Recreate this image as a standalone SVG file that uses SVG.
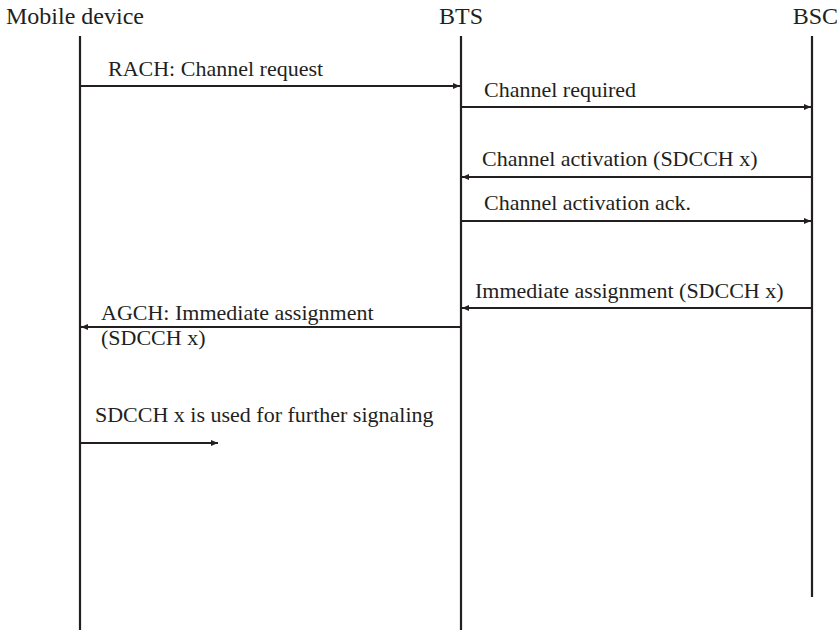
<svg xmlns="http://www.w3.org/2000/svg" width="840" height="630" viewBox="0 0 840 630">
<defs>
<marker id="ah" markerWidth="8" markerHeight="7" refX="7" refY="3.5" orient="auto" markerUnits="userSpaceOnUse">
<path d="M0,0.5 L7,3.5 L0,6.5 z" fill="#231f20"/>
</marker>
<style>
.t{font-family:"Liberation Serif","Times New Roman",serif;fill:#231f20}
.h{font-size:24px}
.l{font-size:22px}
.life{stroke:#231f20;stroke-width:2.2;fill:none}
.msg{stroke:#231f20;stroke-width:2;fill:none;marker-end:url(#ah)}
</style>
</defs>
<rect width="840" height="630" fill="#fff"/>
<g id="mobile">
<text class="t h" x="6" y="24">Mobile device</text>
<line class="life" x1="80" y1="36" x2="80" y2="630"/>
</g>
<g id="bts">
<text class="t h" x="461" y="24" text-anchor="middle">BTS</text>
<line class="life" x1="461" y1="36" x2="461" y2="630"/>
</g>
<g id="bsc">
<text class="t h" x="838" y="24" text-anchor="end">BSC</text>
<line class="life" x1="812" y1="36" x2="812" y2="597"/>
</g>
<g id="connectors">
<line class="msg" x1="80" y1="86" x2="460" y2="86"/>
<text class="t l" x="108" y="76">RACH: Channel request</text>
<line class="msg" x1="461" y1="107" x2="811" y2="107"/>
<text class="t l" x="484" y="97">Channel required</text>
<line class="msg" x1="812" y1="177" x2="462" y2="177"/>
<text class="t l" x="482" y="166">Channel activation (SDCCH x)</text>
<line class="msg" x1="461" y1="221" x2="811" y2="221"/>
<text class="t l" x="484" y="210">Channel activation ack.</text>
<line class="msg" x1="812" y1="308" x2="462" y2="308"/>
<text class="t l" x="475" y="298">Immediate assignment (SDCCH x)</text>
<line class="msg" x1="461" y1="327" x2="81" y2="327"/>
<text class="t l" x="101" y="320">AGCH: Immediate assignment</text>
<text class="t l" x="101" y="345">(SDCCH x)</text>
<line class="msg" x1="80" y1="443" x2="218" y2="443"/>
<text class="t l" x="95" y="422">SDCCH x is used for further signaling</text>
</g>
</svg>
